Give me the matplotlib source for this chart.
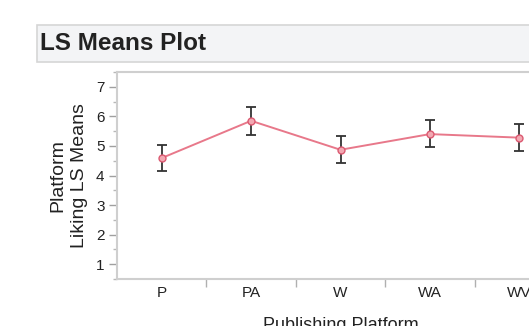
import matplotlib.pyplot as plt
from matplotlib.patches import Rectangle
from matplotlib.ticker import MultipleLocator, FixedLocator, NullFormatter

plt.rcParams['font.family'] = ['Liberation Sans', 'DejaVu Sans']

platforms = ['P', 'PA', 'W', 'WA', 'WV']
ls_means = [4.59, 5.85, 4.87, 5.40, 5.28]
upper = [5.04, 6.31, 5.34, 5.86, 5.73]
lower = [4.15, 5.37, 4.42, 4.95, 4.84]

x = list(range(len(platforms)))
err_low = [m - l for m, l in zip(ls_means, lower)]
err_high = [u - m for m, u in zip(ls_means, upper)]

fig = plt.figure(figsize=(5.29, 3.26), dpi=100)

# title bar
fig.patches.append(Rectangle((37 / 529, 1 - 62 / 326), 1.0, 37 / 326,
                             transform=fig.transFigure, facecolor='#f3f4f6',
                             edgecolor='#d6d6d6', linewidth=1.2))
fig.text(40 / 529, 1 - 44 / 326, 'LS Means Plot', fontsize=17.5, fontweight='bold',
         color='#222222', va='center', ha='left')

ax = fig.add_axes([117 / 529, 47 / 326, 447 / 529, 207 / 326])

ax.errorbar(x, ls_means, yerr=[err_low, err_high], fmt='none', ecolor='#333333',
            elinewidth=1.3, capsize=3.3, capthick=1.3, zorder=2)
ax.plot(x, ls_means, color='#e8788a', linewidth=1.4, marker='o', markersize=5,
        markerfacecolor='#f2a8b2', markeredgecolor='#dc5a72', zorder=3)

ax.set_xlim(-0.5, len(platforms) - 0.5)
ax.set_ylim(0.5, 7.5)
ax.yaxis.set_major_locator(MultipleLocator(1))
ax.yaxis.set_minor_locator(MultipleLocator(0.5))

ax.set_xticks(x)
ax.set_xticklabels(platforms)
ax.xaxis.set_minor_locator(FixedLocator([i + 0.5 for i in x[:-1]]))
ax.xaxis.set_minor_formatter(NullFormatter())
ax.tick_params(axis='x', which='major', length=0, labelsize=11, pad=5, colors='#222222')
ax.tick_params(axis='x', which='minor', length=6, color='#b0b0b0', width=1)
ax.tick_params(axis='y', which='major', length=6, labelsize=11, color='#a0a0a0',
               labelcolor='#222222', width=1, pad=3)
ax.tick_params(axis='y', which='minor', length=3, color='#b8b8b8', width=1)

for side in ['left', 'bottom', 'top', 'right']:
    ax.spines[side].set_color('#cfcfcf')
    ax.spines[side].set_linewidth(1.5)

ax.set_ylabel('Platform\nLiking LS Means', fontsize=14, color='#222222', labelpad=6,
              linespacing=1.35)
ax.set_xlabel('Publishing Platform', fontsize=13, color='#222222', labelpad=12)

fig.savefig('out.png', dpi=100)
